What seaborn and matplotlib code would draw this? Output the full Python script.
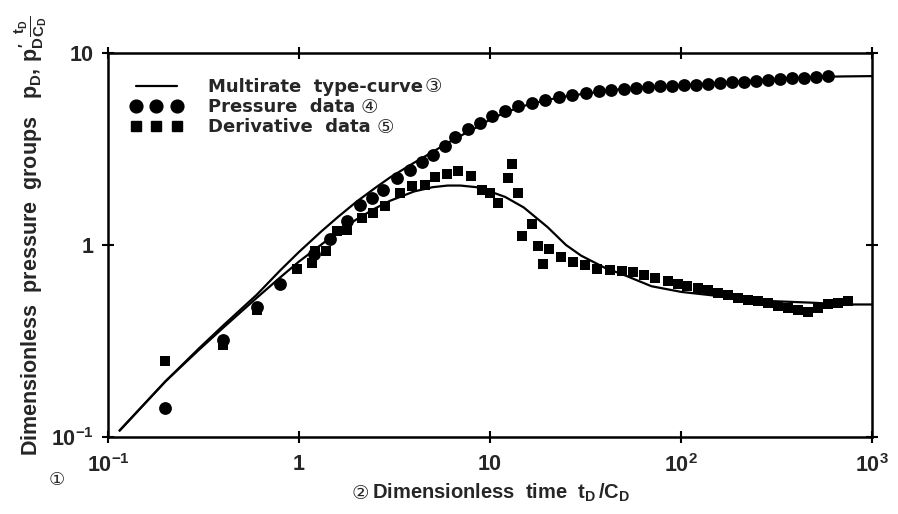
import matplotlib
matplotlib.use("Agg")
import matplotlib.pyplot as plt
import seaborn as sns
from matplotlib.lines import Line2D

# ---- data ----
curve_x = [0.115, 0.2, 0.3, 0.4, 0.6, 0.8, 1.0, 1.3, 1.6, 2.0, 2.5, 3.0, 4.0, 5.0, 6.0, 7.0,
           8.5, 10, 12, 15, 20, 25, 30, 40, 50, 70, 100, 150, 200, 300, 500, 700, 1000]
curve_p = [0.108, 0.195, 0.29, 0.38, 0.55, 0.74, 0.92, 1.17, 1.4, 1.68, 1.98, 2.25, 2.68, 3.05,
           3.4, 3.7, 4.1, 4.5, 4.9, 5.3, 5.7, 5.95, 6.1, 6.35, 6.5, 6.65, 6.8, 6.97, 7.1, 7.3,
           7.5, 7.55, 7.58]
curve_d = [0.108, 0.195, 0.285, 0.37, 0.53, 0.68, 0.82, 1.0, 1.17, 1.36, 1.55, 1.7, 1.9, 2.0,
           2.04, 2.04, 2.0, 1.9, 1.78, 1.57, 1.24, 1.0, 0.88, 0.76, 0.7, 0.61, 0.57, 0.545,
           0.53, 0.51, 0.5, 0.49, 0.49]

press_x = [0.2, 0.4, 0.6, 0.8, 1.2, 1.45, 1.78, 2.09, 2.41, 2.75, 3.26, 3.81, 4.4, 5.03, 5.8,
           6.55, 7.67, 8.85, 10.3, 12.0, 14.0, 16.5, 19.5, 23, 27, 32, 37, 43, 50, 58, 67, 78,
           90, 104, 120, 139, 160, 185, 214, 247, 285, 330, 380, 440, 510, 590]
press_y = [0.141, 0.32, 0.475, 0.625, 0.90, 1.08, 1.33, 1.62, 1.76, 1.94, 2.24, 2.46, 2.71,
           2.95, 3.28, 3.66, 4.03, 4.33, 4.68, 4.98, 5.28, 5.48, 5.68, 5.88, 6.03, 6.18, 6.32,
           6.42, 6.5, 6.58, 6.66, 6.72, 6.77, 6.8, 6.85, 6.92, 6.98, 7.04, 7.1, 7.17, 7.24,
           7.32, 7.38, 7.45, 7.52, 7.6]

deriv_x = [0.2, 0.4, 0.6, 0.98, 1.17, 1.21, 1.38, 1.58, 1.78, 2.13, 2.44, 2.82, 3.38, 3.9,
           4.55, 5.15, 5.95, 6.8, 8.0, 9.1, 10.0, 11.0, 12.4, 13.0, 14.0, 14.7, 16.6, 17.8,
           18.9, 20.3, 23.5, 27.2, 31.5, 36.3, 42.4, 49, 56, 64, 73, 85, 96, 108, 123, 138,
           156, 176, 198, 224, 253, 285, 322, 363, 410, 462, 522, 588, 664, 749]
deriv_y = [0.248, 0.30, 0.46, 0.75, 0.81, 0.93, 0.93, 1.18, 1.2, 1.38, 1.47, 1.6, 1.87, 2.03,
           2.06, 2.27, 2.33, 2.43, 2.29, 1.94, 1.87, 1.66, 2.24, 2.65, 1.87, 1.11, 1.29, 0.99,
           0.80, 0.95, 0.87, 0.82, 0.79, 0.75, 0.74, 0.73, 0.72, 0.70, 0.67, 0.65, 0.63, 0.61,
           0.60, 0.58, 0.56, 0.55, 0.53, 0.52, 0.51, 0.50, 0.48, 0.47, 0.46, 0.45, 0.47, 0.49,
           0.50, 0.51]

x_ticks = [0.1, 1, 10, 100, 1000]
x_ticklabels = [r"$10^{-1}$", "1", "10", r"$10^{2}$", r"$10^{3}$"]
y_ticks = [0.1, 1, 10]
y_ticklabels = [r"$10^{-1}$", "1", "10"]

legend_labels = ["Multirate  type-curve", "Pressure  data", "Derivative  data"]
legend_marks = ["\u2462", "\u2463", "\u2464"]

# ---- style ----
sns.set_style("ticks")
plt.rcParams["font.family"] = ["Liberation Sans", "DejaVu Sans"]
plt.rcParams["font.weight"] = "bold"
plt.rcParams["axes.labelweight"] = "bold"
plt.rcParams["mathtext.fontset"] = "custom"
plt.rcParams["mathtext.rm"] = "Liberation Sans:bold"
plt.rcParams["mathtext.it"] = "Liberation Sans:bold"
plt.rcParams["mathtext.bf"] = "Liberation Sans:bold"
plt.rcParams["mathtext.sf"] = "Liberation Sans:bold"

fig = plt.figure(figsize=(8.98, 5.14), dpi=100)
ax = fig.add_axes([108 / 898, 1 - 437 / 514, (872 - 108) / 898, (437 - 53) / 514])

sns.lineplot(x=curve_x, y=curve_p, color="black", lw=1.6, ax=ax, sort=False)
sns.lineplot(x=curve_x, y=curve_d, color="black", lw=1.6, ax=ax, sort=False)
sns.scatterplot(x=press_x, y=press_y, marker="o", s=85, color="black", edgecolor="black",
                linewidth=0, ax=ax, zorder=3)
sns.scatterplot(x=deriv_x, y=deriv_y, marker="s", s=50, color="black", edgecolor="black",
                linewidth=0, ax=ax, zorder=3)

ax.set_xscale("log")
ax.set_yscale("log")
ax.set_xlim(0.1, 1000)
ax.set_ylim(0.1, 10)
ax.minorticks_off()
ax.set_xticks(x_ticks)
ax.set_xticklabels(x_ticklabels)
ax.set_yticks(y_ticks)
ax.set_yticklabels(y_ticklabels)
ax.tick_params(axis="both", which="major", direction="inout", length=9, width=1.5,
               labelsize=15.5, top=True, right=True, color="black")
ax.tick_params(axis="x", pad=8)
ax.tick_params(axis="y", pad=6)
for sp in ax.spines.values():
    sp.set_linewidth(1.8)
    sp.set_color("black")
ax.grid(False)

ax.set_xlabel("Dimensionless  time  $t_D\\,/C_D$", fontsize=14.5, fontweight="bold",
              va="center")
ax.xaxis.set_label_coords(0.515, -0.146)
ax.set_ylabel("Dimensionless  pressure  groups   $p_D,\\,p_D'\\frac{t_D}{C_D}$", fontsize=15.5,
              fontweight="bold", va="center")
ax.yaxis.set_label_coords(-0.101, 0.525)

fig.text(57 / 898, 1 - 480 / 514, "\u2460", fontsize=13, fontweight="normal",
         family=["DejaVu Sans"], ha="center", va="center")

h_line = Line2D([], [], color="black", lw=1.6)
h_circ = Line2D([], [], color="black", marker="o", markersize=9.2, linestyle="none")
h_sq = Line2D([], [], color="black", marker="s", markersize=7.0, linestyle="none")
leg = ax.legend(handles=[h_line, h_circ, h_sq], labels=legend_labels, loc="upper left",
                bbox_to_anchor=(0.029, 0.935), frameon=False, numpoints=3,
                prop={"family": "DejaVu Sans", "weight": "bold", "size": 13},
                handlelength=2.9, handletextpad=1.4, labelspacing=0.12, borderpad=0,
                borderaxespad=0)

fig.canvas.draw()
renderer = fig.canvas.get_renderer()
W, H = fig.bbox.width, fig.bbox.height
gaps = [2, 6, 6]
for t, mark, g in zip(leg.get_texts(), legend_marks, gaps):
    bb = t.get_window_extent(renderer)
    fig.text((bb.x1 + g) / W, (bb.y0 + bb.y1) / 2 / H, mark, fontsize=14, fontweight="normal",
             family=["DejaVu Sans"], ha="left", va="center")

bb = ax.xaxis.label.get_window_extent(renderer)
fig.text((bb.x0 - 3) / W, (bb.y0 + bb.y1) / 2 / H, "\u2461", fontsize=14, fontweight="normal",
         family=["DejaVu Sans"], ha="right", va="center")

fig.savefig("out.png", dpi=100)
